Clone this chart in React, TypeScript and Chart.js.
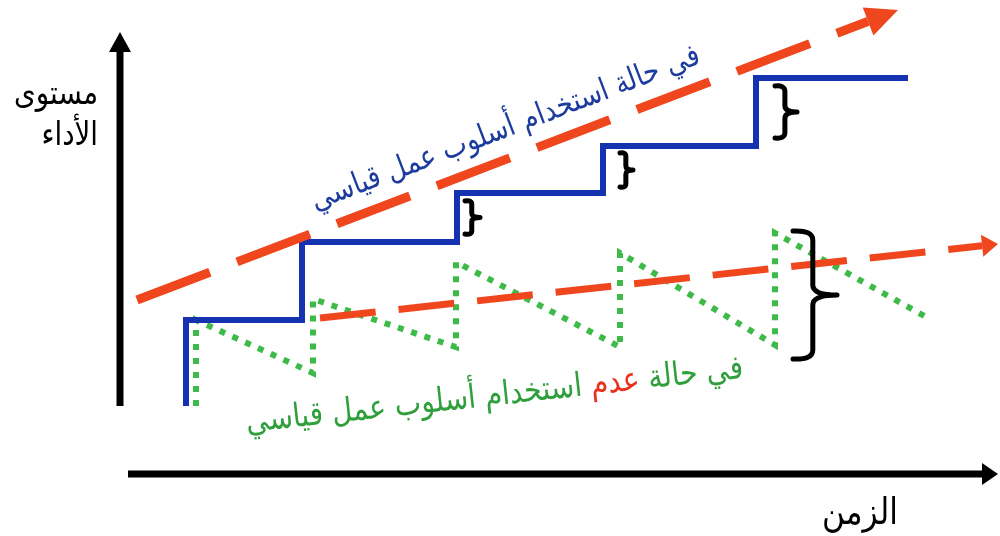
import { useEffect, useRef } from 'react';
import { Chart, registerables } from 'chart.js';

Chart.register(...registerables);

// ---------- Data (time on x, performance level on y) ----------
// Standard work method: staircase (each improvement is held)
const stepX = [6.6, 18.2, 33.7, 48.3, 63.6];
const stepY = [8.6, 16.4, 21.3, 26.0, 32.8];
const stepStartY = 0;
const stepEndX = 78.8;

// No standard work method: saw-tooth (improvement then decay)
const toothX = [7.6, 19.3, 33.6, 50.0, 65.5];
const toothPeakY = [8.6, 10.7, 14.4, 15.3, 17.3];
const toothTroughY = [3.3, 5.9, 5.9, 6.1];
const toothBaseY = 0;
const toothEndX = 80.8;
const toothEndY = 8.8;

// Trend arrows
const trendWithX = [1.7, 77.8];
const trendWithY = [10.6, 39.6];
const trendWithoutX = [20.0, 87.8];
const trendWithoutY = [8.8, 16.2];

// Diagram axes
const yAxisX = [0, 0];
const yAxisY = [0, 37.4];
const xAxisX = [0.8, 87.8];
const xAxisY = [-6.8, -6.8];

// Braces marking the gaps
const braceX = [34.5, 50.0, 65.5, 67.3];
const braceW = [1.5, 1.3, 2.2, 4.4];
const braceTop = [20.6, 25.4, 32.1, 17.6];
const braceBottom = [17.1, 21.8, 26.7, 4.6];

// Labels
const yLabelLines = ['مستوى', 'الأداء'];
const xLabel = 'الزمن';
const withLabel = 'في حالة استخدام أسلوب عمل قياسي';
const withoutWords = ['في', 'حالة', 'عدم', 'استخدام', 'أسلوب', 'عمل', 'قياسي'];
const withoutHighlight = 2;

const FONT = '"DejaVu Sans", sans-serif';
const BLUE = '#1533b0';
const GREEN = '#3dba48';
const RED = '#f0461e';
const STRETCH = 1.18;

function buildStairs() {
  const pts: { x: number; y: number }[] = [{ x: stepX[0], y: stepStartY }];
  stepX.forEach((x, i) => {
    pts.push({ x, y: i === 0 ? stepStartY : stepY[i - 1] });
    pts.push({ x, y: stepY[i] });
  });
  pts.push({ x: stepEndX, y: stepY[stepY.length - 1] });
  return pts;
}

function buildTeeth() {
  const pts: { x: number; y: number }[] = [{ x: toothX[0], y: toothBaseY }];
  toothX.forEach((x, i) => {
    if (i > 0) pts.push({ x, y: toothTroughY[i - 1] });
    pts.push({ x, y: toothPeakY[i] });
  });
  pts.push({ x: toothEndX, y: toothEndY });
  return pts;
}

function zip(xs: number[], ys: number[]) {
  return xs.map((x, i) => ({ x, y: ys[i] }));
}

function arrowGeom(meta: any, len: number) {
  const pts = meta.data;
  const n = pts.length;
  const tip = { x: pts[n - 1].x, y: pts[n - 1].y };
  const prev = { x: pts[n - 2].x, y: pts[n - 2].y };
  const dx = tip.x - prev.x;
  const dy = tip.y - prev.y;
  const d = Math.hypot(dx, dy) || 1;
  const ux = dx / d;
  const uy = dy / d;
  const px = -uy;
  const py = ux;
  const base = { x: tip.x - ux * len, y: tip.y - uy * len };
  return { tip, base, ux, uy, px, py };
}

const arrowPlugin = {
  id: 'arrowHeads',
  beforeDatasetDraw(chart: any, args: any) {
    const ds = chart.data.datasets[args.index];
    if (!ds.arrow) return;
    const ctx = chart.ctx;
    const g = arrowGeom(args.meta, ds.arrow.len);
    const w = ds.borderWidth + 4;
    ctx.save();
    ctx.beginPath();
    ctx.rect(0, 0, chart.width, chart.height);
    ctx.moveTo(g.base.x + g.px * w, g.base.y + g.py * w);
    ctx.lineTo(g.tip.x + g.ux * 6 + g.px * w, g.tip.y + g.uy * 6 + g.py * w);
    ctx.lineTo(g.tip.x + g.ux * 6 - g.px * w, g.tip.y + g.uy * 6 - g.py * w);
    ctx.lineTo(g.base.x - g.px * w, g.base.y - g.py * w);
    ctx.closePath();
    ctx.clip('evenodd');
  },
  afterDatasetDraw(chart: any, args: any) {
    const ds = chart.data.datasets[args.index];
    if (!ds.arrow) return;
    const ctx = chart.ctx;
    ctx.restore();
    const g = arrowGeom(args.meta, ds.arrow.len);
    const h = ds.arrow.half;
    ctx.save();
    ctx.fillStyle = ds.borderColor;
    ctx.beginPath();
    ctx.moveTo(g.tip.x, g.tip.y);
    ctx.lineTo(g.base.x + g.px * h, g.base.y + g.py * h);
    ctx.lineTo(g.base.x - g.px * h, g.base.y - g.py * h);
    ctx.closePath();
    ctx.fill();
    ctx.restore();
  },
};

function fitSize(ctx: CanvasRenderingContext2D, text: string, target: number) {
  ctx.font = `100px ${FONT}`;
  const w = ctx.measureText(text).width;
  return (100 * target) / w;
}

const annotationPlugin = {
  id: 'annotations',
  afterDraw(chart: any) {
    const ctx: CanvasRenderingContext2D = chart.ctx;
    const xs = chart.scales.x;
    const ys = chart.scales.y;
    const X = (v: number) => xs.getPixelForValue(v);
    const Y = (v: number) => ys.getPixelForValue(v);

    // Braces
    ctx.save();
    ctx.strokeStyle = '#000';
    ctx.lineCap = 'round';
    ctx.lineJoin = 'round';
    braceX.forEach((bx, i) => {
      const xl = X(bx);
      const xr = X(bx + braceW[i]);
      const top = Y(braceTop[i]);
      const bot = Y(braceBottom[i]);
      const mid = (top + bot) / 2;
      const xm = xl + (xr - xl) * 0.45;
      const r = Math.min((bot - top) * 0.12, 10);
      ctx.lineWidth = i === 3 ? 5 : 5;
      ctx.beginPath();
      ctx.moveTo(xl, top + 1);
      ctx.quadraticCurveTo(xm, top, xm, top + r);
      ctx.lineTo(xm, mid - r);
      ctx.quadraticCurveTo(xm, mid, xr, mid);
      ctx.quadraticCurveTo(xm, mid, xm, mid + r);
      ctx.lineTo(xm, bot - r);
      ctx.quadraticCurveTo(xm, bot, xl, bot - 1);
      ctx.stroke();
    });
    ctx.restore();

    // Y label (top-left)
    ctx.save();
    ctx.fillStyle = '#000';
    ctx.textAlign = 'right';
    ctx.textBaseline = 'middle';
    const ySize = fitSize(ctx, yLabelLines[0], 84);
    ctx.font = `${ySize}px ${FONT}`;
    ctx.save();
    ctx.translate(X(-2.2), Y(31.0));
    ctx.scale(1, STRETCH);
    ctx.fillText(yLabelLines[0], 0, 0);
    ctx.restore();
    ctx.save();
    ctx.translate(X(-2.2), Y(26.9));
    ctx.scale(1, STRETCH);
    ctx.fillText(yLabelLines[1], 0, 0);
    ctx.restore();
    // X label
    ctx.textAlign = 'center';
    const xSize = fitSize(ctx, xLabel, 76);
    ctx.font = `${xSize}px ${FONT}`;
    ctx.translate(X(74), Y(-10.8));
    ctx.scale(1, STRETCH);
    ctx.fillText(xLabel, 0, 0);
    ctx.restore();

    // Blue rotated label (along the upper trend)
    ctx.save();
    const angW = Math.atan2(
      -(Y(trendWithY[1]) - Y(trendWithY[0])),
      X(trendWithX[1]) - X(trendWithX[0])
    );
    ctx.translate(X(39), Y(26.6));
    ctx.rotate(-angW);
    ctx.scale(1, STRETCH);
    const bSize = fitSize(ctx, withLabel, 414);
    ctx.font = `${bSize}px ${FONT}`;
    ctx.fillStyle = '#1d3c9e';
    ctx.textAlign = 'center';
    ctx.textBaseline = 'middle';
    ctx.fillText(withLabel, 0, -10);
    ctx.restore();

    // Green label with one red word (along the lower trend)
    ctx.save();
    const angWo = Math.atan2(
      -(Y(trendWithoutY[1]) - Y(trendWithoutY[0])),
      X(trendWithoutX[1]) - X(trendWithoutX[0])
    );
    ctx.translate(X(37.5), Y(0.6));
    ctx.rotate(-angWo);
    ctx.scale(1, STRETCH);
    const full = withoutWords.join(' ');
    const gSize = fitSize(ctx, full, 500);
    ctx.font = `${gSize}px ${FONT}`;
    ctx.textAlign = 'right';
    ctx.textBaseline = 'middle';
    ctx.direction = 'rtl';
    const space = ctx.measureText(' ').width;
    const total = ctx.measureText(full).width;
    let cx = total / 2;
    withoutWords.forEach((w, i) => {
      ctx.fillStyle = i === withoutHighlight ? '#e8301c' : '#2f9f3c';
      ctx.fillText(w, cx, -3);
      cx -= ctx.measureText(w).width + space;
    });
    ctx.restore();
  },
};

export default function App() {
  const ref = useRef<HTMLCanvasElement | null>(null);
  useEffect(() => {
    if (!ref.current) return;
    const chart = new Chart(ref.current, {
      type: 'line',
      data: {
        datasets: [
          {
            data: zip(yAxisX, yAxisY),
            borderColor: '#000',
            borderWidth: 7,
            borderCapStyle: 'butt',
            arrow: { len: 20, half: 11 },
          } as any,
          {
            data: zip(xAxisX, xAxisY),
            borderColor: '#000',
            borderWidth: 7,
            borderCapStyle: 'butt',
            arrow: { len: 16, half: 11 },
          } as any,
          {
            data: zip(trendWithX, trendWithY),
            borderColor: RED,
            borderWidth: 9,
            borderDash: [78, 29],
            borderCapStyle: 'butt',
            arrow: { len: 32, half: 15 },
          } as any,
          {
            data: zip(trendWithoutX, trendWithoutY),
            borderColor: RED,
            borderWidth: 7,
            borderDash: [56, 23],
            borderCapStyle: 'butt',
            arrow: { len: 16, half: 11 },
          } as any,
          {
            data: buildStairs(),
            borderColor: BLUE,
            borderWidth: 6,
            borderJoinStyle: 'miter',
            borderCapStyle: 'butt',
          },
          {
            data: buildTeeth(),
            borderColor: GREEN,
            borderWidth: 6,
            borderDash: [6, 8],
            borderJoinStyle: 'miter',
            borderCapStyle: 'butt',
          },
        ],
      },
      options: {
        animation: false,
        responsive: false,
        devicePixelRatio: 1,
        layout: { padding: 0 },
        elements: { point: { radius: 0, hoverRadius: 0 }, line: { tension: 0 } },
        datasets: { line: { clip: false } as any },
        plugins: { legend: { display: false }, tooltip: { enabled: false }, title: { display: false } },
        events: [],
        scales: {
          x: { type: 'linear', min: -12, max: 88, display: false },
          y: { type: 'linear', min: -13, max: 40.6, display: false },
        },
      },
      plugins: [arrowPlugin, annotationPlugin],
    });
    return () => chart.destroy();
  }, []);
  return (
    <div style={{ position: 'absolute', left: 0, top: 0, width: 1000, height: 536, background: '#fff' }}>
      <canvas ref={ref} width={1000} height={536} />
    </div>
  );
}
